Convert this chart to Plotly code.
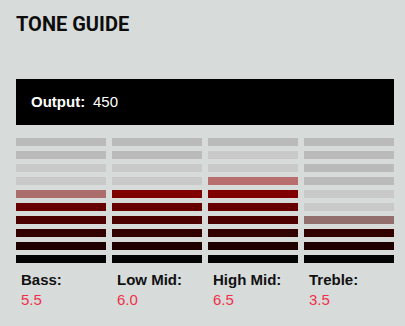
import math
import plotly.graph_objects as go

# ---- data ----
bands = ["Bass", "Low Mid", "High Mid", "Treble"]
levels = [5.5, 6.0, 6.5, 3.5]
value_labels = ["5.5", "6.0", "6.5", "3.5"]
output_value = "450"
n_segments = 10
lit_colors = ["#040404", "#1f0000", "#330000", "#4d0000", "#660000",
              "#800000", "#990000", "#b30000", "#cc0000", "#e60000"]

BG = "#d7dbda"
UNLIT_NEAR = "#c8c9c8"
UNLIT_FAR = "#bababa"
W, H = 405, 326

def blend(hex_color, alpha, bg=BG):
    c = [int(hex_color[i:i + 2], 16) for i in (1, 3, 5)]
    b = [int(bg[i:i + 2], 16) for i in (1, 3, 5)]
    return "#" + "".join(f"{round(alpha * c[k] + (1 - alpha) * b[k]):02x}" for k in range(3))

def seg_color(level, i):
    if level >= i + 1:
        return lit_colors[i]
    if level >= i + 0.5:
        return blend(lit_colors[i], 0.5)
    if i < math.ceil(level) + 2:
        return UNLIT_NEAR
    return UNLIT_FAR

seg_h, pitch = 8, 13
xs = list(range(len(bands)))

fig = go.Figure()
for i in range(n_segments):
    fig.add_trace(go.Bar(
        x=xs, y=[seg_h] * len(bands), base=[i * pitch] * len(bands),
        marker=dict(color=[seg_color(lv, i) for lv in levels], line=dict(width=0)),
        width=90 / 96, hoverinfo="skip", showlegend=False,
    ))

left_px, right_px = 16, 394
top_px, bot_px = 138, 263
half = 3 / 96
fig.update_layout(
    width=W, height=H, margin=dict(l=0, r=0, t=0, b=0),
    paper_bgcolor=BG, plot_bgcolor=BG, barmode="overlay",
    xaxis=dict(domain=[left_px / W, right_px / W], range=[-0.5 + half, len(bands) - 0.5 - half],
               visible=False, fixedrange=True),
    yaxis=dict(domain=[1 - bot_px / H, 1 - top_px / H],
               range=[0, (n_segments - 1) * pitch + seg_h], visible=False, fixedrange=True),
    font=dict(family="Liberation Sans, Arial, sans-serif"),
)

# black output box
fig.add_shape(type="rect", xref="paper", yref="paper",
              x0=16 / W, x1=394 / W, y0=1 - 125 / H, y1=1 - 79 / H,
              fillcolor="#000000", line=dict(width=0), layer="below")

ann = []
ann.append(dict(text="<b>TONE GUIDE</b>", x=16 / W, y=1 - 24 / H, xref="paper", yref="paper",
                xanchor="left", yanchor="middle", showarrow=False, xshift=-2,
                font=dict(family="Roboto", size=20, color="#0d0d0d")))
ann.append(dict(text="<b>Output:</b>", x=31 / W, y=1 - 102 / H, xref="paper", yref="paper",
                xanchor="left", yanchor="middle", showarrow=False, xshift=-2,
                font=dict(size=15, color="#ffffff")))
ann.append(dict(text=output_value, x=92 / W, y=1 - 102 / H, xref="paper", yref="paper",
                xanchor="left", yanchor="middle", showarrow=False, xshift=-1,
                font=dict(size=15, color="#ffffff")))
for k, (b, v) in enumerate(zip(bands, value_labels)):
    ann.append(dict(text=f"<b>{b}:</b>", x=k - 45 / 96, y=1 - 279 / H, xref="x", yref="paper",
                    xanchor="left", yanchor="middle", xshift=3, showarrow=False,
                    font=dict(size=15, color="#111111")))
    ann.append(dict(text=v, x=k - 45 / 96, y=1 - 299 / H, xref="x", yref="paper",
                    xanchor="left", yanchor="middle", xshift=3, showarrow=False,
                    font=dict(size=15, color="#f0304a")))
fig.update_layout(annotations=ann)

fig.write_html("out.html", config={"displayModeBar": False})
